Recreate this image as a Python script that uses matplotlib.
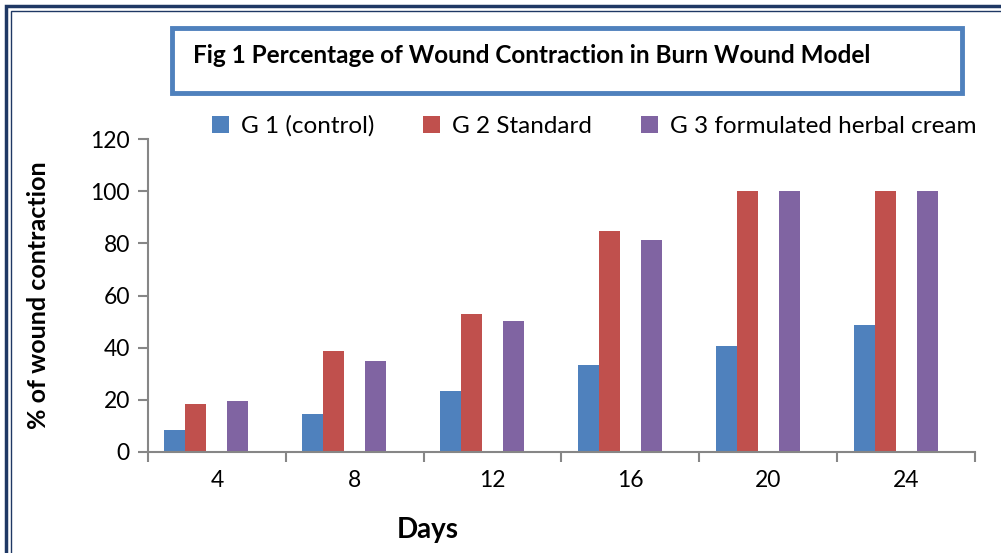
import matplotlib
matplotlib.use("Agg")
import matplotlib.pyplot as plt
from matplotlib.patches import Rectangle
import numpy as np

plt.rcParams['font.family'] = ['Lato', 'DejaVu Sans']

days = ["4", "8", "12", "16", "20", "24"]
g1_control = [8.5, 14.4, 23.3, 33.4, 40.5, 48.6]
g2_standard = [18.5, 38.7, 52.9, 84.6, 100, 100]
g3_herbal = [19.5, 34.9, 50.2, 81.2, 100, 100]
series_names = ["G 1 (control)", "G 2 Standard", "G 3 formulated herbal cream"]
colors = ["#4F81BD", "#C0504D", "#8064A2"]
yticks = [0, 20, 40, 60, 80, 100, 120]

W, H = 1001, 553
fig = plt.figure(figsize=(W / 100, H / 100), dpi=100)
ax = fig.add_axes([148 / W, 1 - 452 / H, (975 - 148) / W, (452 - 139) / H])

x = np.arange(len(days))
w = 0.1524
slots = [0, 1, 3]
for s, vals, c, name in zip(slots, [g1_control, g2_standard, g3_herbal], colors, series_names):
    ax.bar(x + (s - 2) * w, vals, width=w, color=c, label=name, zorder=2)

ax.set_xlim(-0.5, len(days) - 0.5)
ax.set_ylim(0, 120)
ax.set_yticks(yticks)
ax.set_yticklabels([str(t) for t in yticks], fontsize=16.5)
ax.set_xticks(x)
ax.set_xticklabels(days, fontsize=16.5)
ax.set_xticks(np.arange(len(days) + 1) - 0.5, minor=True)
ax.tick_params(axis='x', which='major', length=0, pad=13)
ax.tick_params(axis='x', which='minor', length=7, color='#868686', width=1.5)
ax.tick_params(axis='y', length=7, color='#868686', width=1.5, pad=6)
for sp in ['top', 'right']:
    ax.spines[sp].set_visible(False)
for sp in ['left', 'bottom']:
    ax.spines[sp].set_color('#868686')
    ax.spines[sp].set_linewidth(1.5)

ax.set_ylabel("% of wound contraction", fontsize=18, fontweight='bold')
ax.yaxis.set_label_coords(-98 / (975 - 148), 0.5)
fig.text(428 / W, 1 - 530 / H, "Days", fontsize=20, fontweight='bold', ha='center', va='center')

# legend
handles, labels = ax.get_legend_handles_labels()
leg = fig.legend(handles, labels, loc='center', bbox_to_anchor=(594 / W, 1 - 126 / H),
                 ncol=3, frameon=False, fontsize=17.5, handlelength=0.7, handleheight=0.7,
                 columnspacing=2.0, handletextpad=0.5)

# title box
fig.patches.append(Rectangle((172 / W, 1 - 93 / H), (962 - 172) / W, (93 - 28) / H,
                             transform=fig.transFigure, fill=False, edgecolor='#4F81BD', linewidth=3.5))
fig.text(193 / W, 1 - 55 / H, "Fig 1 Percentage of Wound Contraction in Burn Wound Model",
         fontsize=17.5, fontweight='bold', ha='left', va='center')

# outer border
fig.patches.append(Rectangle((6 / W, -0.05), 1.05, 1 - 6 / H + 0.05, transform=fig.transFigure,
                             fill=False, edgecolor='#1F3864', linewidth=2.5))
fig.patches.append(Rectangle((11 / W, -0.05), 1.05, 1 - 11 / H + 0.05, transform=fig.transFigure,
                             fill=False, edgecolor='#1F3864', linewidth=1.0))

fig.savefig("out.png", dpi=100)
